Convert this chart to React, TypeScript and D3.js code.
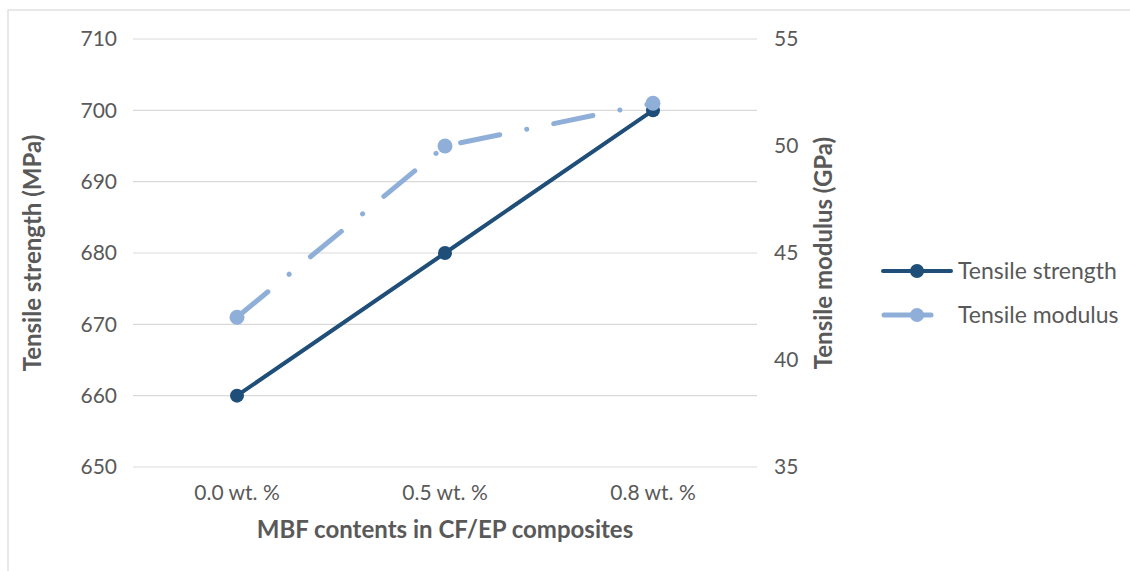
import React from "react";
import * as d3 from "d3";

// Categories and measured values
const categories = ["0.0 wt. %", "0.5 wt. %", "0.8 wt. %"];
const strengthMPa = [660, 680, 700];
const modulusGPa = [42, 50, 52];
const leftTicks = [650, 660, 670, 680, 690, 700, 710];
const rightTicks = [35, 40, 45, 50, 55];
const seriesNames = ["Tensile strength", "Tensile modulus"];

const W = 1130;
const H = 571;
const plot = { left: 133, right: 757, top: 39, bottom: 467 };

const DARK = "#1F4E79";
const LIGHT = "#8FAFD9";
const TEXT = "#595959";
const GRID = "#d9d9d9";
const FONT = "Lato, 'Liberation Sans', sans-serif";

export default function App() {
  const x = d3
    .scaleBand<string>()
    .domain(categories)
    .range([plot.left, plot.right])
    .paddingInner(0)
    .paddingOuter(0);
  const cx = (c: string) => (x(c) ?? 0) + x.bandwidth() / 2;
  const yL = d3.scaleLinear().domain([650, 710]).range([plot.bottom, plot.top]);
  const yR = d3.scaleLinear().domain([35, 55]).range([plot.bottom, plot.top]);

  const strengthPts: [number, number][] = categories.map((c, i) => [cx(c), yL(strengthMPa[i])]);
  const modulusPts: [number, number][] = categories.map((c, i) => [cx(c), yR(modulusGPa[i])]);
  const line = d3.line<[number, number]>();

  // long-dash / dot pattern for the modulus series
  const lw = 5;
  const dashDot = "40 27.5 0.1 27.5";

  return (
    <svg
      width={W}
      height={H}
      style={{ position: "absolute", left: 0, top: 0, background: "#fff" }}
    >
      <rect x={8} y={10} width={W} height={H + 20} fill="#fff" stroke={GRID} strokeWidth={1.2} />

      {/* gridlines */}
      {leftTicks.map((t) => (
        <line key={t} x1={plot.left} x2={plot.right} y1={yL(t)} y2={yL(t)} stroke={GRID} strokeWidth={1.2} />
      ))}

      {/* left tick labels */}
      {leftTicks.map((t) => (
        <text key={t} x={117} y={yL(t)} dy="0.35em" textAnchor="end" fontFamily={FONT} fontSize={21} fill={TEXT}>
          {t}
        </text>
      ))}

      {/* right tick labels */}
      {rightTicks.map((t) => (
        <text key={t} x={774} y={yR(t)} dy="0.35em" textAnchor="start" fontFamily={FONT} fontSize={21} fill={TEXT}>
          {t}
        </text>
      ))}

      {/* category labels */}
      {categories.map((c) => (
        <text key={c} x={cx(c)} y={493} dy="0.35em" textAnchor="middle" fontFamily={FONT} fontSize={21} fill={TEXT}>
          {c}
        </text>
      ))}

      {/* axis titles */}
      <text x={445} y={530} dy="0.35em" textAnchor="middle" fontFamily={FONT} fontWeight="bold" fontSize={24} fill={TEXT}>
        MBF contents in CF/EP composites
      </text>
      <text
        transform={`translate(33,${(plot.top + plot.bottom) / 2}) rotate(-90)`}
        dy="0.35em"
        textAnchor="middle"
        fontFamily={FONT}
        fontWeight="bold"
        fontSize={24}
        fill={TEXT}
      >
        Tensile strength (MPa)
      </text>
      <text
        transform={`translate(824,${(plot.top + plot.bottom) / 2}) rotate(-90)`}
        dy="0.35em"
        textAnchor="middle"
        fontFamily={FONT}
        fontWeight="bold"
        fontSize={24}
        fill={TEXT}
      >
        Tensile modulus (GPa)
      </text>

      {/* series */}
      <path d={line(strengthPts) ?? ""} fill="none" stroke={DARK} strokeWidth={4} strokeLinejoin="round" />
      {strengthPts.map(([px, py], i) => (
        <circle key={i} cx={px} cy={py} r={7} fill={DARK} />
      ))}
      <path
        d={line(modulusPts) ?? ""}
        fill="none"
        stroke={LIGHT}
        strokeWidth={lw}
        strokeDasharray={dashDot}
        strokeLinecap="round"
      />
      {modulusPts.map(([px, py], i) => (
        <circle key={i} cx={px} cy={py} r={7.5} fill={LIGHT} />
      ))}

      {/* legend */}
      {seriesNames.map((name, i) => {
        const ly = 271 + i * 44;
        const color = i === 0 ? DARK : LIGHT;
        return (
          <g key={name}>
            {i === 0 ? (
              <line x1={883} x2={951} y1={ly} y2={ly} stroke={color} strokeWidth={4} strokeLinecap="round" />
            ) : (
              <line x1={884} x2={931} y1={ly} y2={ly} stroke={color} strokeWidth={lw} strokeLinecap="round" />
            )}
            <circle cx={917} cy={ly} r={7} fill={color} />
            <text x={958} y={ly} dy="0.35em" fontFamily={FONT} fontSize={23} fill={TEXT}>
              {name}
            </text>
          </g>
        );
      })}
    </svg>
  );
}
